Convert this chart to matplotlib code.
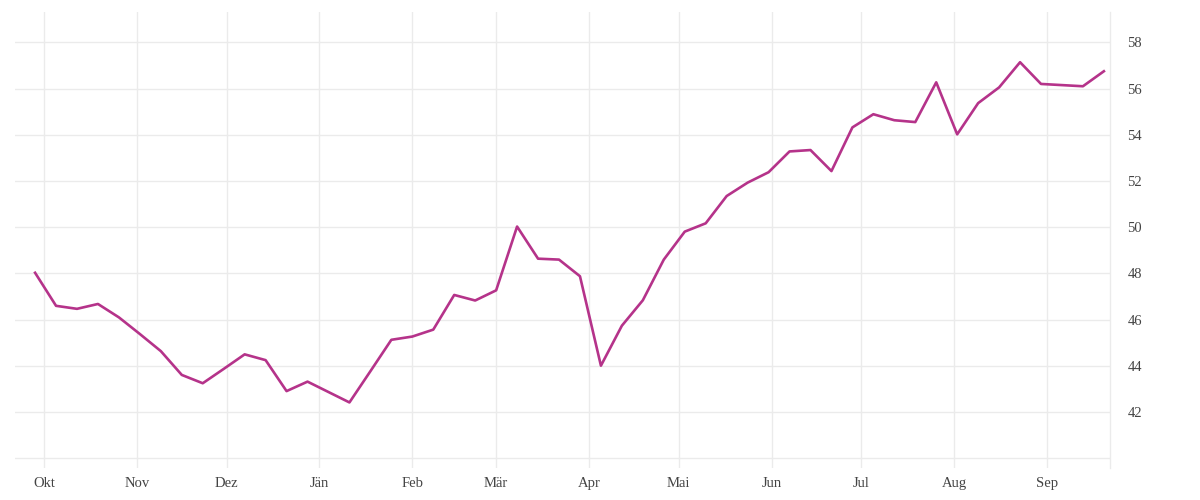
import datetime as dt

import matplotlib
matplotlib.use("Agg")
from matplotlib import pyplot as plt

# weekly values, Sep 2020 - Sep 2021
start = dt.datetime(2020, 9, 28)
values = [48.03, 46.6, 46.47, 46.68, 46.1, 45.38, 44.64, 43.61, 43.25, 43.87,
          44.5, 44.25, 42.91, 43.32, 42.87, 42.42, 43.77, 45.13, 45.27, 45.57,
          47.07, 46.83, 47.27, 50.03, 48.64, 48.6, 47.88, 44.01, 45.74, 46.84,
          48.6, 49.81, 50.17, 51.35, 51.93, 52.38, 53.28, 53.34, 52.43, 54.32,
          54.89, 54.63, 54.55, 56.27, 54.02, 55.37, 56.05, 57.14, 56.2, 56.15,
          56.1, 56.75]
dates = [start + dt.timedelta(weeks=i) for i in range(len(values))]

month_labels = ["Okt", "Nov", "Dez", "Jän", "Feb", "Mär", "Apr", "Mai",
                "Jun", "Jul", "Aug", "Sep"]
month_nums = [10, 11, 12, 1, 2, 3, 4, 5, 6, 7, 8, 9]
month_starts = [dt.datetime(2020 if m >= 10 else 2021, m, 1) for m in month_nums]
y_ticks = [40, 42, 44, 46, 48, 50, 52, 54, 56, 58]
y_labels = ["" if v == 40 else str(v) for v in y_ticks]

plt.rcParams["font.family"] = ["Liberation Serif", "DejaVu Serif"]
grid_color = "#ebebeb"
text_color = "#444444"

fig = plt.figure(figsize=(12, 5), dpi=100)
ax = fig.add_axes([0.0125, 0.0634, 0.9125, 0.912])

ax.plot(dates, values, color="#b5338a", lw=1.9, zorder=3)

ax.set_xlim(dt.datetime(2020, 9, 21, 7), dt.datetime(2021, 9, 22, 1))
ax.set_ylim(39.57, 59.3)

ax.set_xticks(month_starts)
ax.set_xticklabels(month_labels)
ax.set_yticks(y_ticks)
ax.set_yticklabels(y_labels)
ax.yaxis.tick_right()

ax.tick_params(axis="both", length=0, colors=text_color, labelsize=10.5)
ax.tick_params(axis="x", pad=6)
ax.tick_params(axis="y", pad=12.5)

ax.grid(True, color=grid_color, lw=1)
ax.set_axisbelow(True)
for side in ["left", "top", "bottom"]:
    ax.spines[side].set_visible(False)
ax.spines["right"].set_color(grid_color)
ax.spines["right"].set_linewidth(1)

fig.savefig("out.png", dpi=100)
